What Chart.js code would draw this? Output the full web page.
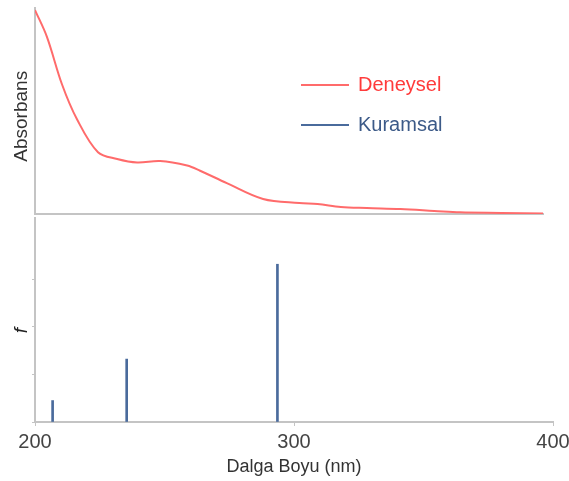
<!DOCTYPE html>
<html>
<head>
<meta charset="utf-8">
<script src="https://cdn.jsdelivr.net/npm/chart.js@4"></script>
<style>
html, body { margin: 0; padding: 0; background: #fff; }
#topChart { position: absolute; left: 0; top: 0; }
#bottomChart { position: absolute; left: 0; top: 216px; }
</style>
</head>
<body>
<canvas id="topChart" width="569" height="216"></canvas>
<canvas id="bottomChart" width="569" height="265"></canvas>
<script>
// experimental spectrum (Deneysel)
const expWavelength = [200, 204.6, 210.4, 216.2, 224.3, 231.7, 239.4, 248.3, 258.7, 263.7, 274, 288, 302, 309, 318, 328, 341, 354, 364, 380, 396];
const expAbsorbance = [0.99, 0.86, 0.63, 0.46, 0.30, 0.267, 0.25, 0.257, 0.235, 0.21, 0.15, 0.073, 0.053, 0.049, 0.034, 0.029, 0.024, 0.015, 0.008, 0.005, 0.002];

// calculated transitions (Kuramsal)
const calcWavelength = [206.8, 235.4, 293.6];
const calcStrength = [0.045, 0.132, 0.331];

const xTicks = [200, 300, 400];
const fTicks = [0, 0.1, 0.2, 0.3];
const legendLabels = ['Deneysel', 'Kuramsal'];

const red = '#ff6b6b';
const blue = '#4a6b9c';
const axisGrey = '#c4c4c4';
const fontFamily = "'Liberation Sans', Arial, sans-serif";

// simple legend drawn inside the top panel
const panelLegend = {
    id: 'panelLegend',
    afterDraw(chart) {
        const ctx = chart.ctx;
        const colors = [red, blue];
        const textColors = ['#ff3b3b', '#3c5a88'];
        ctx.save();
        ctx.font = '20px ' + fontFamily;
        ctx.textBaseline = 'middle';
        legendLabels.forEach((lab, i) => {
            const y = 85 + i * 40;
            ctx.strokeStyle = colors[i];
            ctx.lineWidth = 2;
            ctx.beginPath();
            ctx.moveTo(301, y);
            ctx.lineTo(349, y);
            ctx.stroke();
            ctx.fillStyle = textColors[i];
            ctx.fillText(lab, 358, y);
        });
        ctx.restore();
    }
};

new Chart(document.getElementById('topChart'), {
    type: 'line',
    data: {
        datasets: [{
            label: legendLabels[0],
            data: expWavelength.map((x, i) => ({x: x, y: expAbsorbance[i]})),
            borderColor: red,
            borderWidth: 2,
            pointRadius: 0,
            tension: 0.35,
            fill: false
        }]
    },
    options: {
        responsive: false,
        animation: false,
        layout: {padding: {top: 8, right: 26, bottom: 2, left: 0}},
        plugins: {legend: {display: false}, tooltip: {enabled: false}},
        scales: {
            x: {
                type: 'linear', min: 200, max: 396,
                ticks: {display: false},
                grid: {display: false},
                border: {color: axisGrey, width: 2},
                afterFit: s => { s.height = 0; }
            },
            y: {
                min: 0, max: 1,
                ticks: {display: false},
                grid: {display: false},
                border: {color: axisGrey, width: 2},
                title: {
                    display: true, text: 'Absorbans  ',
                    color: '#333', font: {size: 19, family: fontFamily},
                    padding: {top: 10, bottom: 0}
                },
                afterFit: s => { s.width = 35; }
            }
        }
    },
    plugins: [panelLegend]
});

new Chart(document.getElementById('bottomChart'), {
    type: 'bar',
    data: {
        datasets: [{
            label: legendLabels[1],
            data: calcWavelength.map((x, i) => ({x: x, y: calcStrength[i]})),
            backgroundColor: blue,
            barThickness: 2
        }]
    },
    options: {
        responsive: false,
        animation: false,
        layout: {padding: {top: 2, right: 16, bottom: 0, left: 0}},
        plugins: {legend: {display: false}, tooltip: {enabled: false}},
        scales: {
            x: {
                type: 'linear', min: 200, max: 400, offset: false,
                afterBuildTicks: s => { s.ticks = xTicks.map(v => ({value: v})); },
                ticks: {color: '#444', font: {size: 20, family: fontFamily}, padding: 4},
                grid: {drawOnChartArea: false, drawTicks: true, tickLength: 4, color: axisGrey, offset: false},
                border: {color: axisGrey, width: 2},
                title: {
                    display: true, text: 'Dalga Boyu (nm)',
                    color: '#333', font: {size: 18, family: fontFamily},
                    padding: {top: 0, bottom: 3}
                },
                afterFit: s => { s.height = 59; s.paddingLeft = 0; s.paddingRight = 0; }
            },
            y: {
                min: 0, max: 0.428,
                afterBuildTicks: s => { s.ticks = fTicks.map(v => ({value: v})); },
                ticks: {display: false},
                grid: {drawOnChartArea: false, drawTicks: true, tickLength: 3, color: axisGrey},
                border: {color: axisGrey, width: 2},
                title: {
                    display: true, text: 'f    ',
                    color: '#222', font: {size: 19, style: 'italic', family: fontFamily},
                    padding: {top: 10, bottom: 0}
                },
                afterFit: s => { s.width = 35; }
            }
        }
    }
});
</script>
</body>
</html>
